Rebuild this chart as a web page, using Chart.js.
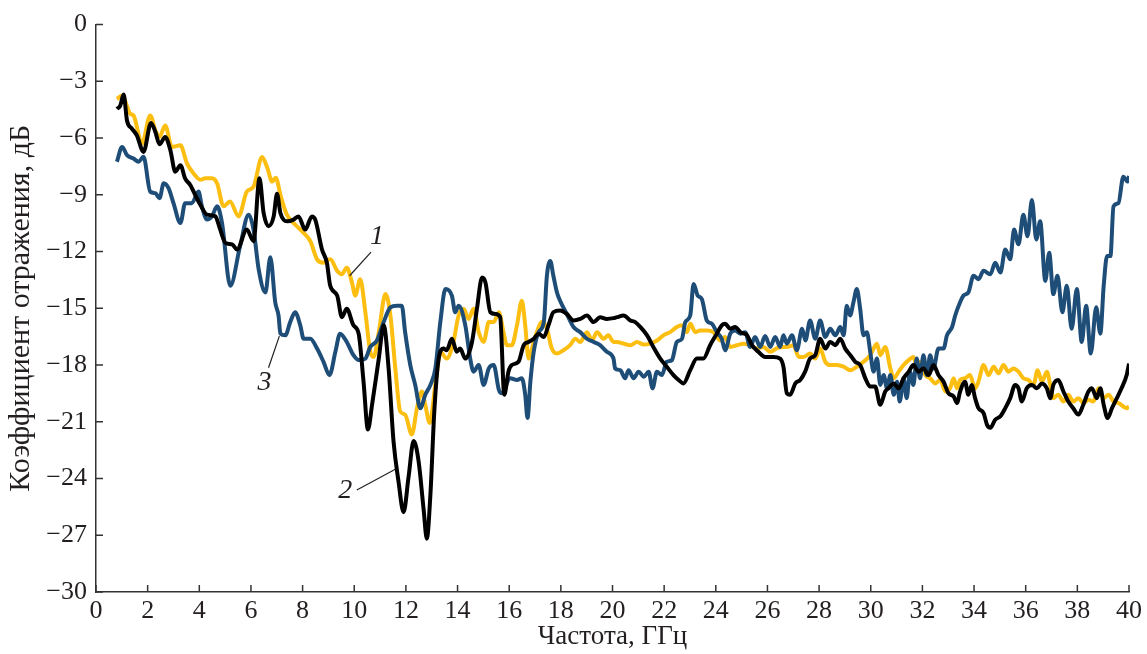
<!DOCTYPE html>
<html>
<head>
<meta charset="utf-8">
<script src="https://cdn.jsdelivr.net/npm/chart.js@4.4.1/dist/chart.umd.min.js"></script>
<style>
  html, body { margin: 0; padding: 0; background: #fff; }
  #wrap { width: 1147px; height: 654px; }
</style>
</head>
<body>
<div id="wrap"><canvas id="chart" width="1147" height="654"></canvas></div>
<script>
// curve 1 (yellow)
const freq1 = [0.81, 1.01, 1.33, 1.45, 1.78, 2.10, 2.30, 2.46, 2.68, 2.94, 3.27, 3.52, 3.78, 4.04, 4.23, 4.49, 4.69, 4.94, 5.19, 5.52,
  5.84, 6.10, 6.43, 6.64, 6.82, 6.96, 7.16, 7.39, 7.71, 8.04, 8.30, 8.56, 8.81, 9.07, 9.34, 9.52, 9.71, 9.91, 10.04, 10.23,
  10.43, 10.62, 10.75, 10.95, 11.21, 11.40, 11.59, 11.78, 11.97, 12.23, 12.43, 12.62, 12.75, 12.92, 13.14, 13.34, 13.58, 13.84, 14.04, 14.23,
  14.43, 14.62, 14.82, 15.01, 15.21, 15.40, 15.60, 15.78, 15.91, 16.10, 16.30, 16.49, 16.62, 16.75, 16.88, 17.07, 17.27, 17.46, 17.65, 17.85,
  18.10, 18.36, 18.56, 18.75, 19.01, 19.21, 19.40, 19.65, 19.84, 20.04, 20.17, 20.43, 20.69, 20.95, 21.21, 21.46, 21.72, 21.97, 22.23, 22.49,
  22.69, 22.88, 23.01, 23.21, 23.39, 23.65, 23.91, 24.17, 24.36, 24.56, 24.82, 25.08, 25.33, 25.58, 25.84, 26.11, 26.37, 26.62, 26.75, 27.01,
  27.21, 27.40, 27.65, 27.85, 28.04, 28.24, 28.43, 28.69, 28.95, 29.21, 29.46, 29.72, 29.98, 30.11, 30.24, 30.37, 30.56, 30.76, 30.89, 31.08,
  31.27, 31.47, 31.65, 31.78, 31.91, 32.11, 32.30, 32.50, 32.69, 32.89, 33.08, 33.21, 33.34, 33.46, 33.65, 33.84, 34.04, 34.17, 34.37, 34.56,
  34.76, 34.95, 35.14, 35.33, 35.53, 35.72, 35.91, 36.11, 36.30, 36.46, 36.63, 36.82, 36.95, 37.07, 37.26, 37.46, 37.65, 37.84, 38.04, 38.23,
  38.43, 38.62, 38.82, 39.02, 39.21, 39.40, 39.59, 39.78, 39.91, 40.0];
const refl1 = [-3.93, -3.76, -4.72, -4.8, -6.29, -4.8, -5.6, -5.94, -5.33, -6.47, -6.38, -7.34, -7.87, -8.2, -8.13, -8.13, -8.4, -9.6, -9.35, -10.14,
  -8.83, -8.57, -7.0, -7.6, -8.3, -8.1, -9.1, -10.05, -10.57, -11.01, -11.45, -12.41, -12.59, -12.41, -13.02, -13.2, -12.85, -13.63, -14.33, -13.46,
  -15.21, -17.3, -17.57, -16.26, -14.25, -15.38, -18.18, -20.45, -20.62, -21.67, -20.28, -19.4, -20.1, -21.06, -19.05, -17.3, -17.66, -16.78, -15.38, -15.03,
  -15.56, -15.03, -16.26, -16.78, -15.73, -15.73, -15.21, -16.26, -16.95, -16.95, -15.9, -14.6, -15.9, -17.66, -17.13, -16.26, -15.73, -16.08, -17.13, -17.39,
  -17.22, -16.95, -16.61, -16.78, -16.26, -16.7, -16.26, -16.61, -16.43, -16.78, -16.78, -16.87, -16.95, -16.78, -16.92, -16.87, -16.7, -16.43, -16.26, -15.99,
  -15.9, -16.26, -15.82, -16.26, -16.17, -16.17, -16.26, -16.7, -16.52, -17.04, -16.95, -16.87, -16.95, -17.13, -17.04, -17.3, -17.1, -17.04, -17.04, -16.95,
  -17.57, -17.57, -17.39, -17.66, -17.13, -17.83, -18.0, -18.0, -18.09, -18.27, -18.09, -17.83, -17.48, -17.13, -16.87, -17.48, -17.04, -18.18, -18.7, -18.35,
  -18.0, -17.74, -17.57, -18.0, -17.83, -18.53, -18.7, -18.97, -18.79, -19.4, -19.2, -18.7, -19.23, -18.79, -18.7, -18.53, -19.23, -18.88, -18.0, -18.53,
  -18.09, -18.44, -18.0, -18.35, -18.18, -18.35, -18.7, -18.79, -19.05, -18.27, -18.88, -18.35, -19.05, -19.75, -19.57, -19.93, -19.57, -19.93, -19.75, -20.01,
  -19.84, -19.93, -19.23, -19.75, -19.57, -19.93, -20.01, -20.19, -20.28, -20.19];

// curve 2 (black)
const freq2 = [0.81, 0.94, 1.07, 1.20, 1.39, 1.58, 1.84, 2.13, 2.30, 2.46, 2.68, 2.88, 3.07, 3.27, 3.45, 3.65, 3.84, 4.04, 4.30, 4.62,
  4.81, 5.01, 5.27, 5.46, 5.84, 6.10, 6.33, 6.49, 6.68, 6.88, 7.01, 7.14, 7.40, 7.65, 7.84, 8.10, 8.36, 8.49, 8.75, 8.94,
  9.07, 9.34, 9.52, 9.71, 9.97, 10.17, 10.36, 10.53, 10.69, 10.95, 11.14, 11.33, 11.52, 11.71, 11.91, 12.10, 12.30, 12.49, 12.69, 12.81,
  12.95, 13.10, 13.27, 13.46, 13.58, 13.78, 13.97, 14.10, 14.30, 14.56, 14.75, 14.95, 15.08, 15.27, 15.47, 15.65, 15.81, 15.97, 16.10, 16.36,
  16.56, 16.75, 16.95, 17.14, 17.34, 17.52, 17.71, 17.97, 18.23, 18.49, 18.75, 19.01, 19.27, 19.52, 19.78, 20.04, 20.17, 20.43, 20.69, 20.88,
  21.08, 21.34, 21.58, 21.85, 22.10, 22.36, 22.56, 22.75, 23.01, 23.27, 23.52, 23.78, 24.04, 24.23, 24.36, 24.56, 24.75, 24.95, 25.21, 25.40,
  25.65, 25.91, 26.23, 26.49, 26.62, 26.75, 26.88, 27.08, 27.27, 27.46, 27.65, 27.85, 28.04, 28.24, 28.43, 28.63, 28.82, 29.01, 29.21, 29.40,
  29.59, 29.79, 29.98, 30.17, 30.37, 30.56, 30.69, 30.89, 31.08, 31.27, 31.47, 31.65, 31.85, 32.04, 32.24, 32.43, 32.62, 32.82, 33.01, 33.21,
  33.34, 33.46, 33.65, 33.78, 33.91, 34.04, 34.17, 34.37, 34.50, 34.63, 34.82, 35.02, 35.21, 35.40, 35.59, 35.72, 35.85, 36.04, 36.24, 36.43,
  36.63, 36.82, 36.95, 37.07, 37.26, 37.46, 37.65, 37.84, 38.04, 38.23, 38.43, 38.56, 38.75, 38.89, 39.02, 39.17, 39.34, 39.53, 39.71, 39.91, 40.0];
const refl2 = [-4.46, -4.28, -3.7, -5.07, -5.5, -5.85, -6.73, -5.2, -5.68, -6.33, -5.94, -6.64, -7.78, -7.43, -8.13, -8.48, -9.0, -9.53, -10.05, -10.14,
  -10.84, -11.54, -11.62, -11.89, -10.84, -11.45, -8.13, -9.96, -10.66, -10.14, -8.95, -9.96, -10.4, -10.31, -10.14, -10.84, -10.14, -10.31, -11.89, -12.59,
  -13.81, -14.33, -15.47, -15.03, -15.9, -16.34, -18.88, -21.41, -20.1, -17.66, -15.9, -18.18, -22.02, -24.12, -25.78, -23.95, -22.02, -23.07, -25.69, -27.18,
  -24.82, -20.45, -17.66, -17.13, -17.22, -16.61, -17.3, -17.13, -17.66, -16.78, -15.03, -13.37, -13.63, -15.21, -15.3, -15.47, -19.57, -18.35, -18.0, -17.83,
  -16.95, -16.78, -16.61, -16.34, -16.52, -15.9, -15.21, -15.12, -15.3, -15.64, -15.56, -15.38, -15.73, -15.47, -15.56, -15.52, -15.47, -15.38, -15.64, -15.73,
  -15.99, -16.43, -17.04, -17.66, -18.09, -18.53, -18.79, -18.97, -18.27, -17.66, -17.66, -16.95, -16.34, -15.9, -15.82, -16.08, -15.99, -16.26, -16.43, -16.95,
  -17.3, -17.57, -17.57, -17.66, -18.1, -19.49, -19.57, -18.97, -18.79, -18.35, -17.66, -17.48, -16.61, -17.13, -16.78, -16.95, -16.61, -17.13, -17.48, -17.83,
  -18.0, -18.7, -19.14, -19.14, -20.1, -19.4, -19.23, -18.97, -19.23, -18.7, -18.35, -18.0, -18.35, -18.18, -18.53, -18.0, -18.53, -18.88, -19.49, -19.66,
  -20.01, -19.4, -18.88, -19.57, -19.05, -19.75, -20.28, -20.54, -21.15, -21.32, -20.89, -20.71, -20.28, -19.75, -19.05, -19.23, -19.93, -19.23, -19.05, -19.23,
  -18.97, -19.23, -19.75, -19.05, -18.79, -19.4, -19.93, -20.28, -20.62, -20.1, -19.4, -19.23, -19.75, -19.23, -20.1, -20.8, -20.28, -19.75, -19.23, -18.53, -17.92];

// curve 3 (blue)
const freq3 = [0.81, 1.01, 1.20, 1.45, 1.65, 1.84, 2.10, 2.30, 2.46, 2.62, 2.81, 3.00, 3.27, 3.45, 3.71, 3.97, 4.10, 4.30, 4.49, 4.69,
  4.88, 5.20, 5.58, 5.91, 6.10, 6.30, 6.56, 6.75, 6.94, 7.07, 7.14, 7.33, 7.52, 7.71, 7.91, 8.04, 8.30, 8.56, 8.81, 9.04,
  9.27, 9.45, 9.71, 9.97, 10.17, 10.43, 10.62, 10.88, 11.14, 11.40, 11.65, 11.84, 11.97, 12.17, 12.36, 12.56, 12.75, 12.95, 13.14, 13.34,
  13.53, 13.78, 13.91, 14.04, 14.30, 14.49, 14.62, 14.82, 15.01, 15.21, 15.40, 15.60, 15.71, 16.04, 16.30, 16.49, 16.62, 16.71, 16.82, 16.95,
  17.14, 17.34, 17.46, 17.59, 17.71, 17.85, 17.97, 18.23, 18.49, 18.75, 19.01, 19.27, 19.52, 19.78, 20.04, 20.10, 20.30, 20.49, 20.62, 20.82,
  21.01, 21.21, 21.40, 21.55, 21.72, 21.91, 22.10, 22.30, 22.49, 22.69, 22.82, 23.01, 23.14, 23.30, 23.46, 23.65, 23.85, 24.04, 24.23, 24.36,
  24.56, 24.75, 24.95, 25.14, 25.33, 25.52, 25.72, 25.91, 26.11, 26.30, 26.49, 26.62, 26.75, 26.95, 27.14, 27.34, 27.47, 27.65, 27.85, 28.04,
  28.24, 28.43, 28.63, 28.82, 28.95, 29.07, 29.20, 29.33, 29.46, 29.59, 29.72, 29.85, 29.98, 30.11, 30.24, 30.37, 30.50, 30.63, 30.76, 30.89,
  31.02, 31.12, 31.27, 31.39, 31.52, 31.65, 31.78, 31.91, 32.04, 32.17, 32.30, 32.43, 32.62, 32.82, 32.95, 33.15, 33.27, 33.46, 33.59, 33.78,
  33.98, 34.17, 34.37, 34.63, 34.82, 35.02, 35.21, 35.40, 35.55, 35.72, 35.91, 36.07, 36.24, 36.41, 36.56, 36.76, 36.91, 37.07, 37.23, 37.42,
  37.59, 37.78, 37.98, 38.17, 38.34, 38.52, 38.73, 38.89, 39.02, 39.15, 39.28, 39.40, 39.59, 39.78, 39.94, 40.0];
const refl3 = [-7.25, -6.47, -6.9, -7.08, -7.25, -6.99, -8.83, -8.91, -9.18, -8.39, -8.65, -9.44, -10.49, -9.44, -9.44, -8.83, -9.61, -10.31, -10.14, -9.61,
  -10.49, -13.81, -11.71, -10.05, -10.84, -12.94, -14.16, -12.3, -14.68, -15.4, -16.34, -16.43, -15.73, -15.21, -15.9, -16.61, -16.61, -17.13, -17.83, -18.53,
  -17.3, -16.34, -16.78, -17.48, -17.74, -17.66, -17.04, -16.7, -15.73, -14.95, -14.86, -14.86, -16.26, -18.0, -19.05, -20.28, -19.57, -19.05, -18.18, -15.65,
  -13.98, -14.33, -15.21, -14.86, -15.9, -17.66, -18.35, -18.0, -19.05, -18.18, -18.0, -19.31, -19.49, -18.7, -18.79, -18.7, -19.57, -20.8, -18.88, -17.3,
  -16.26, -15.73, -13.28, -12.5, -13.28, -14.16, -14.6, -15.3, -15.99, -16.26, -16.61, -16.78, -16.95, -17.3, -17.66, -18.18, -18.27, -18.7, -18.27, -18.7,
  -18.35, -18.62, -18.35, -19.23, -18.35, -18.53, -17.83, -17.74, -16.78, -16.61, -15.73, -15.38, -13.72, -14.33, -14.51, -15.64, -15.82, -16.26, -16.61, -17.22,
  -16.34, -16.17, -16.34, -16.26, -17.04, -16.52, -17.04, -16.47, -17.04, -16.52, -17.04, -16.43, -16.87, -16.43, -17.22, -16.08, -16.7, -15.64, -16.61, -15.64,
  -16.52, -16.08, -16.43, -15.99, -16.43, -14.86, -15.38, -14.68, -13.98, -15.03, -16.43, -16.26, -17.3, -18.35, -17.66, -19.05, -18.53, -19.23, -18.53, -19.57,
  -18.88, -19.93, -18.7, -19.75, -18.35, -19.05, -17.66, -18.7, -17.48, -18.53, -17.48, -18.18, -17.13, -17.13, -16.43, -15.99, -15.38, -14.68, -14.33, -14.16,
  -13.28, -13.46, -13.02, -13.2, -12.59, -13.11, -11.89, -12.41, -10.84, -11.62, -10.05, -11.19, -9.27, -11.36, -10.4, -13.55, -12.06, -14.25, -13.28, -15.21,
  -13.81, -16.08, -13.98, -16.78, -14.86, -17.39, -14.95, -16.34, -13.81, -12.24, -12.24, -9.61, -9.44, -8.04, -8.3, -8.0];

// curve numbers with leader lines, in data units
const curveTags = [
  { text: '1', at: [10.88, -11.19], from: [10.65, -12.03], to: [9.82, -13.28] },
  { text: '2', at: [9.65, -24.65], from: [10.10, -24.61], to: [11.59, -23.51] },
  { text: '3', at: [6.52, -18.93], from: [6.68, -18.14], to: [7.10, -16.47] }
];

const serif = '"Liberation Serif", "DejaVu Serif", serif';
const ink = '#231f20';

function points(xs, ys) {
  return xs.map((x, i) => ({ x: x, y: ys[i] }));
}

const innerTicks = {
  id: 'innerTicks',
  afterDraw(chart) {
    const { ctx, chartArea, scales: { x, y } } = chart;
    ctx.save();
    ctx.strokeStyle = '#333';
    ctx.lineWidth = 1.5;
    ctx.beginPath();
    x.ticks.forEach(t => {
      const px = x.getPixelForValue(t.value);
      ctx.moveTo(px, chartArea.bottom);
      ctx.lineTo(px, chartArea.bottom - 7);
    });
    y.ticks.forEach(t => {
      const py = y.getPixelForValue(t.value);
      ctx.moveTo(chartArea.left, py);
      ctx.lineTo(chartArea.left + 7, py);
    });
    ctx.stroke();
    ctx.restore();
  }
};

const tagPlugin = {
  id: 'tags',
  afterDatasetsDraw(chart) {
    const { ctx, scales: { x, y } } = chart;
    ctx.save();
    ctx.strokeStyle = '#222';
    ctx.lineWidth = 1.2;
    ctx.fillStyle = ink;
    ctx.font = 'italic 28px ' + serif;
    ctx.textAlign = 'center';
    ctx.textBaseline = 'middle';
    curveTags.forEach(t => {
      ctx.beginPath();
      ctx.moveTo(x.getPixelForValue(t.from[0]), y.getPixelForValue(t.from[1]));
      ctx.lineTo(x.getPixelForValue(t.to[0]), y.getPixelForValue(t.to[1]));
      ctx.stroke();
      ctx.fillText(t.text, x.getPixelForValue(t.at[0]), y.getPixelForValue(t.at[1]));
    });
    ctx.restore();
  }
};

new Chart(document.getElementById('chart'), {
  type: 'line',
  data: {
    datasets: [
      { label: '2', data: points(freq2, refl2), borderColor: '#000000', order: 0 },
      { label: '3', data: points(freq3, refl3), borderColor: '#1e4d78', order: 1 },
      { label: '1', data: points(freq1, refl1), borderColor: '#fdbe12', order: 2 }
    ]
  },
  options: {
    responsive: false,
    animation: false,
    events: [],
    layout: { padding: { top: 20, right: 18, left: 0, bottom: 0 } },
    elements: {
      line: { borderWidth: 4, tension: 0.3, cubicInterpolationMode: 'monotone' },
      point: { radius: 0 }
    },
    plugins: { legend: { display: false }, tooltip: { enabled: false } },
    scales: {
      x: {
        type: 'linear',
        min: 0,
        max: 40,
        afterFit(scale) { scale.height = 62; },
        grid: { display: false, drawTicks: false },
        border: { display: true, color: '#333', width: 1.5 },
        ticks: { stepSize: 2, padding: 4, color: ink, font: { family: serif, size: 26 } },
        title: { display: true, text: 'Частота, ГГц', color: ink, padding: 1, font: { family: serif, size: 27 } }
      },
      y: {
        min: -30,
        max: 0,
        afterFit(scale) { scale.width = 96; },
        grid: { display: false, drawTicks: false },
        border: { display: true, color: '#333', width: 1.5 },
        ticks: {
          stepSize: 3,
          padding: 9,
          color: ink,
          font: { family: serif, size: 26 },
          callback: v => String(v).replace('-', '\u2212')
        },
        title: { display: true, text: 'Коэффициент отражения, дБ', color: ink, padding: 3, font: { family: serif, size: 30 } }
      }
    }
  },
  plugins: [innerTicks, tagPlugin]
});
</script>
</body>
</html>
